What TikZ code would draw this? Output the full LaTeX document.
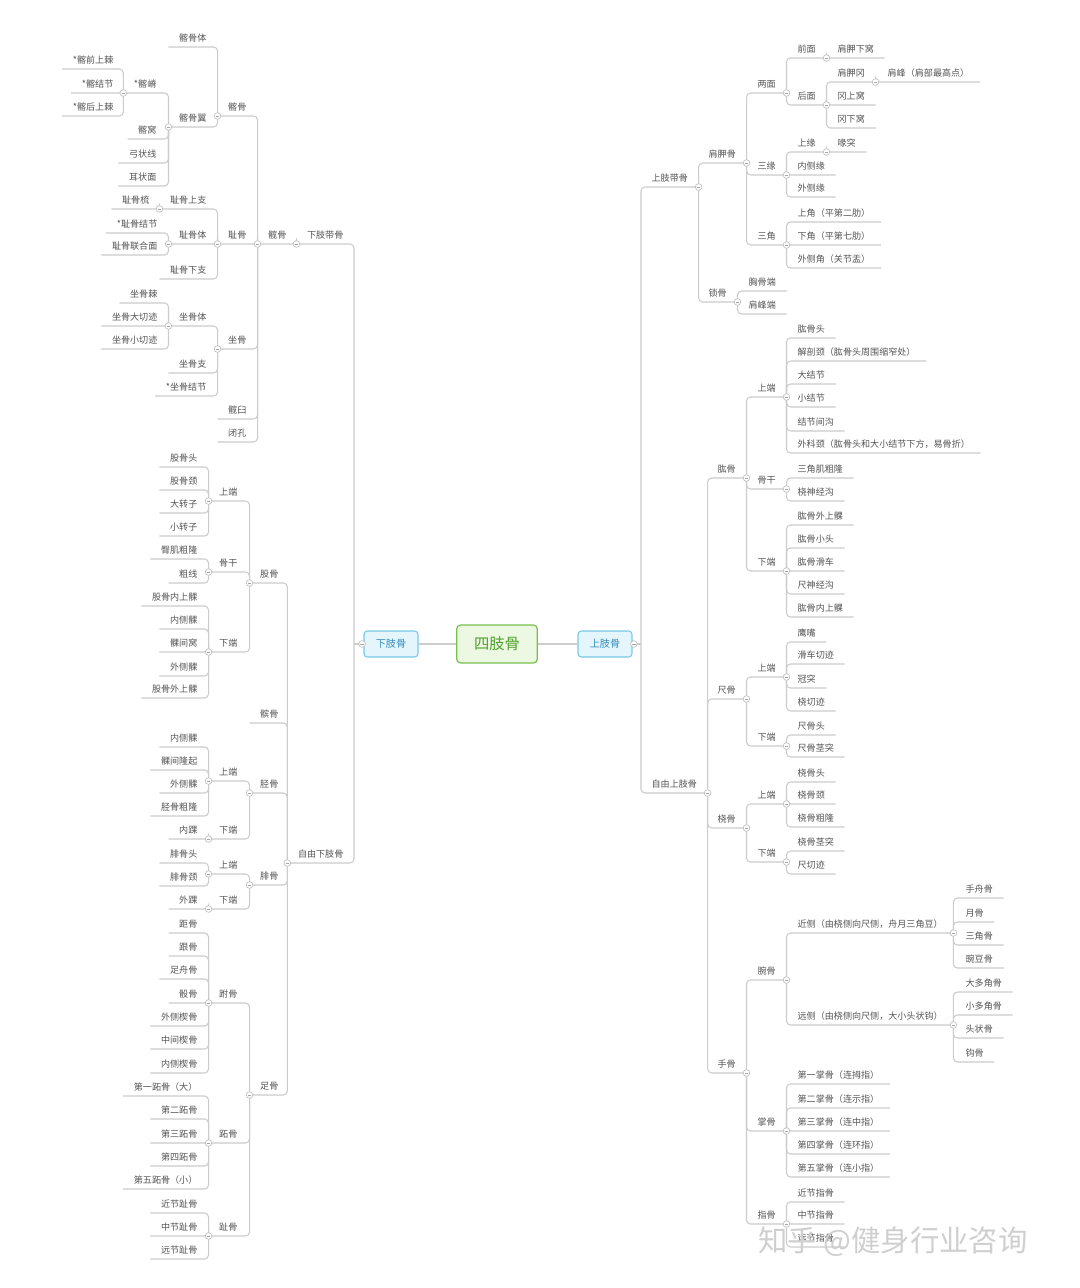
\documentclass[tikz,border=0pt]{standalone}
\usepackage{fontspec}
\setmainfont{Noto Sans CJK SC}
\definecolor{conngray}{RGB}{204,204,204}
\definecolor{txtgray}{RGB}{85,85,85}
\definecolor{hubgreen}{RGB}{118,192,78}
\definecolor{hubfill}{RGB}{236,248,226}
\definecolor{hubtext}{RGB}{80,160,45}
\definecolor{limbblue}{RGB}{120,200,232}
\definecolor{limbfill}{RGB}{228,245,252}
\definecolor{limbtext}{RGB}{55,140,190}
\tikzset{
  conn/.style={conngray, line width=0.8pt, rounded corners=3pt},
  rb/.style={anchor=south west, inner xsep=7.8pt, inner ysep=3pt, text height=6pt, text depth=0.8pt,
             font=\fontsize{6.8}{8}\selectfont, text=txtgray},
  lb/.style={rb, anchor=south east},
  hub/.style={draw=hubgreen, fill=hubfill, rounded corners=3pt, line width=0.9pt,
              minimum width=60.5pt, minimum height=28.5pt, text=hubtext, font=\fontsize{11.5}{13}\selectfont},
  limb/.style={draw=limbblue, fill=limbfill, rounded corners=2.5pt, line width=0.8pt,
               minimum width=40.5pt, minimum height=19.5pt, text=limbtext, font=\fontsize{7.6}{9}\selectfont},
  knob/.style={circle, draw=gray!50, fill=white, line width=0.5pt, inner sep=0pt, minimum size=5pt,
      path picture={\draw[gray!70, line width=0.5pt] ([xshift=-1.3pt]path picture bounding box.center)
                    -- ([xshift=1.3pt]path picture bounding box.center);}},
  wmark/.style={text=gray!38, font=\fontsize{22}{25}\selectfont},
}
\begin{document}
\begin{tikzpicture}[x=0.75pt, y=-0.75pt]
  \fill[white] (0,0) rectangle (1080,1288);
  \useasboundingbox (0,0) rectangle (1080,1288);

  % centre
  \node[hub] (root) at (497,644) {四肢骨};
  \node[limb] (upper) at (605,644) {上肢骨};
  \node[limb] (lower) at (391,644) {下肢骨};
  \coordinate (ut) at (641,644);
  \coordinate (lt) at (354,644);

  % upper limb
  \node[rb] (ug) at (641,187) {上肢带骨};
  \node[rb] (sc) at (698,163) {肩胛骨};
  \node[rb] (sc2m) at (747,93) {两面};
  \node[rb] (scF) at (787,58) {前面};
  \node[rb] (scFa) at (827,58) {肩胛下窝};
  \node[rb] (scB) at (787,105) {后面};
  \node[rb] (spine) at (827,82) {肩胛冈};
  \node[rb] (acro) at (877,82) {肩峰（肩部最高点）};
  \node[rb] (supra) at (827,105) {冈上窝};
  \node[rb] (infra) at (827,128) {冈下窝};
  \node[rb] (sc3e) at (747,175) {三缘};
  \node[rb] (scSup) at (787,152) {上缘};
  \node[rb] (cora) at (827,152) {喙突};
  \node[rb] (scMed) at (787,175) {内侧缘};
  \node[rb] (scLat) at (787,197) {外侧缘};
  \node[rb] (sc3a) at (747,245) {三角};
  \node[rb] (angSup) at (787,222) {上角（平第二肋）};
  \node[rb] (angInf) at (787,245) {下角（平第七肋）};
  \node[rb] (angLat) at (787,268) {外侧角（关节盂）};
  \node[rb] (clav) at (698,302) {锁骨};
  \node[rb] (clavS) at (738,291) {胸骨端};
  \node[rb] (clavA) at (738,314) {肩峰端};

  \node[rb] (uf) at (641,793) {自由上肢骨};
  \node[rb] (hum) at (707,478) {肱骨};
  \node[rb] (humP) at (747,397) {上端};
  \node[rb] (humHead) at (787,338) {肱骨头};
  \node[rb] (humAnat) at (787,361) {解剖颈（肱骨头周围缩窄处）};
  \node[rb] (humGT) at (787,384) {大结节};
  \node[rb] (humLT) at (787,407) {小结节};
  \node[rb] (humSul) at (787,431) {结节间沟};
  \node[rb] (humSurg) at (787,453) {外科颈（肱骨头和大小结节下方，易骨折）};
  \node[rb] (humS) at (747,489) {骨干};
  \node[rb] (humDel) at (787,478) {三角肌粗隆};
  \node[rb] (humRad) at (787,501) {桡神经沟};
  \node[rb] (humD) at (747,571) {下端};
  \node[rb] (humLE) at (787,525) {肱骨外上髁};
  \node[rb] (humCap) at (787,548) {肱骨小头};
  \node[rb] (humTro) at (787,571) {肱骨滑车};
  \node[rb] (humUln) at (787,594) {尺神经沟};
  \node[rb] (humME) at (787,617) {肱骨内上髁};
  \node[rb] (uln) at (707,699) {尺骨};
  \node[rb] (ulnP) at (747,677) {上端};
  \node[rb] (ulnOle) at (787,642) {鹰嘴};
  \node[rb] (ulnTro) at (787,664) {滑车切迹};
  \node[rb] (ulnCor) at (787,688) {冠突};
  \node[rb] (ulnRad) at (787,711) {桡切迹};
  \node[rb] (ulnD) at (747,746) {下端};
  \node[rb] (ulnHead) at (787,735) {尺骨头};
  \node[rb] (ulnSty) at (787,757) {尺骨茎突};
  \node[rb] (rad) at (707,828) {桡骨};
  \node[rb] (radP) at (747,804) {上端};
  \node[rb] (radHead) at (787,782) {桡骨头};
  \node[rb] (radNeck) at (787,804) {桡骨颈};
  \node[rb] (radTub) at (787,827) {桡骨粗隆};
  \node[rb] (radD) at (747,862) {下端};
  \node[rb] (radSty) at (787,851) {桡骨茎突};
  \node[rb] (radUln) at (787,874) {尺切迹};
  \node[rb] (hand) at (707,1073) {手骨};
  \node[rb] (carp) at (747,980) {腕骨};
  \node[rb] (carpP) at (787,933) {近侧（由桡侧向尺侧，舟月三角豆）};
  \node[rb] (scaph) at (955,898) {手舟骨};
  \node[rb] (lun) at (955,922) {月骨};
  \node[rb] (triq) at (955,945) {三角骨};
  \node[rb] (pisi) at (955,968) {豌豆骨};
  \node[rb] (carpD) at (787,1025) {远侧（由桡侧向尺侧，大小头状钩）};
  \node[rb] (trapz) at (955,992) {大多角骨};
  \node[rb] (trapd) at (955,1015) {小多角骨};
  \node[rb] (capit) at (955,1038) {头状骨};
  \node[rb] (hama) at (955,1062) {钩骨};
  \node[rb] (meta) at (747,1131) {掌骨};
  \node[rb] (mc1) at (787,1084) {第一掌骨（连拇指）};
  \node[rb] (mc2) at (787,1108) {第二掌骨（连示指）};
  \node[rb] (mc3) at (787,1131) {第三掌骨（连中指）};
  \node[rb] (mc4) at (787,1154) {第四掌骨（连环指）};
  \node[rb] (mc5) at (787,1177) {第五掌骨（连小指）};
  \node[rb] (phal) at (747,1224) {指骨};
  \node[rb] (phP) at (787,1202) {近节指骨};
  \node[rb] (phM) at (787,1224) {中节指骨};
  \node[rb] (phD) at (787,1247) {远节指骨};

  % lower limb
  \node[lb] (lg) at (354,244) {下肢带骨};
  \node[lb] (hip) at (297,244) {髋骨};
  \node[lb] (il) at (257,116) {髂骨};
  \node[lb] (ilB) at (217,47) {髂骨体};
  \node[lb] (ilW) at (217,127) {髂骨翼};
  \node[lb] (crest) at (167,93) {*髂嵴};
  \node[lb] (asis) at (124,69) {*髂前上棘};
  \node[lb] (iltub) at (124,93) {*髂结节};
  \node[lb] (psis) at (124,116) {*髂后上棘};
  \node[lb] (ilF) at (167,139) {髂窝};
  \node[lb] (arc) at (167,163) {弓状线};
  \node[lb] (aur) at (167,186) {耳状面};
  \node[lb] (pu) at (257,244) {耻骨};
  \node[lb] (puS) at (217,209) {耻骨上支};
  \node[lb] (pecten) at (160,209) {耻骨梳};
  \node[lb] (puB) at (217,244) {耻骨体};
  \node[lb] (putub) at (168,233) {*耻骨结节};
  \node[lb] (sym) at (168,255) {耻骨联合面};
  \node[lb] (puI) at (217,279) {耻骨下支};
  \node[lb] (is) at (257,349) {坐骨};
  \node[lb] (isB) at (217,326) {坐骨体};
  \node[lb] (isSp) at (168,303) {坐骨棘};
  \node[lb] (isGr) at (168,326) {坐骨大切迹};
  \node[lb] (isLe) at (168,349) {坐骨小切迹};
  \node[lb] (isR) at (217,373) {坐骨支};
  \node[lb] (istub) at (217,396) {*坐骨结节};
  \node[lb] (acet) at (257,419) {髋臼};
  \node[lb] (obt) at (257,442) {闭孔};

  \node[lb] (lf) at (354,863) {自由下肢骨};
  \node[lb] (fem) at (289,583) {股骨};
  \node[lb] (femP) at (248,501) {上端};
  \node[lb] (femHead) at (208,467) {股骨头};
  \node[lb] (femNeck) at (208,490) {股骨颈};
  \node[lb] (femGT) at (208,513) {大转子};
  \node[lb] (femLT) at (208,536) {小转子};
  \node[lb] (femS) at (248,572) {骨干};
  \node[lb] (femGlu) at (208,559) {臀肌粗隆};
  \node[lb] (femLin) at (208,583) {粗线};
  \node[lb] (femD) at (248,652) {下端};
  \node[lb] (femME) at (208,606) {股骨内上髁};
  \node[lb] (femMC) at (208,629) {内侧髁};
  \node[lb] (femIC) at (208,652) {髁间窝};
  \node[lb] (femLC) at (208,676) {外侧髁};
  \node[lb] (femLE) at (208,698) {股骨外上髁};
  \node[lb] (pat) at (289,723) {髌骨};
  \node[lb] (tib) at (289,793) {胫骨};
  \node[lb] (tibP) at (248,781) {上端};
  \node[lb] (tibMC) at (208,747) {内侧髁};
  \node[lb] (tibIE) at (208,770) {髁间隆起};
  \node[lb] (tibLC) at (208,793) {外侧髁};
  \node[lb] (tibTub) at (208,816) {胫骨粗隆};
  \node[lb] (tibD) at (248,839) {下端};
  \node[lb] (tibMM) at (208,839) {内踝};
  \node[lb] (fib) at (289,885) {腓骨};
  \node[lb] (fibP) at (248,874) {上端};
  \node[lb] (fibHead) at (208,863) {腓骨头};
  \node[lb] (fibNeck) at (208,886) {腓骨颈};
  \node[lb] (fibD) at (248,909) {下端};
  \node[lb] (fibLM) at (208,909) {外踝};
  \node[lb] (foot) at (289,1095) {足骨};
  \node[lb] (tars) at (248,1003) {跗骨};
  \node[lb] (talus) at (208,933) {距骨};
  \node[lb] (calc) at (208,956) {跟骨};
  \node[lb] (navi) at (208,979) {足舟骨};
  \node[lb] (cub) at (208,1003) {骰骨};
  \node[lb] (cunL) at (208,1026) {外侧楔骨};
  \node[lb] (cunI) at (208,1049) {中间楔骨};
  \node[lb] (cunM) at (208,1073) {内侧楔骨};
  \node[lb] (mt) at (248,1143) {跖骨};
  \node[lb] (mt1) at (208,1096) {第一跖骨（大）};
  \node[lb] (mt2) at (208,1119) {第二跖骨};
  \node[lb] (mt3) at (208,1143) {第三跖骨};
  \node[lb] (mt4) at (208,1166) {第四跖骨};
  \node[lb] (mt5) at (208,1189) {第五跖骨（小）};
  \node[lb] (toe) at (248,1236) {趾骨};
  \node[lb] (tP) at (208,1213) {近节趾骨};
  \node[lb] (tM) at (208,1236) {中节趾骨};
  \node[lb] (tD) at (208,1259) {远节趾骨};

  % connectors
  \draw[conn] (root.west) -- (lower.east);
  \draw[conn] (root.east) -- (upper.west);
  \draw[conn] (upper.east) -- (ut);
  \draw[conn] (ut) |- (ug.south east);
  \draw[conn] (ut) |- (uf.south east);
  \draw[conn] (lower.west) -- (lt);
  \draw[conn] (lt) |- (lg.south west);
  \draw[conn] (lt) |- (lf.south west);
  \foreach \p/\c in {ug/sc, ug/clav, sc/sc2m, sc/sc3e, sc/sc3a, sc2m/scF, sc2m/scB, scF/scFa,
      scB/spine, scB/supra, scB/infra, spine/acro, sc3e/scSup, sc3e/scMed, sc3e/scLat, scSup/cora,
      sc3a/angSup, sc3a/angInf, sc3a/angLat, clav/clavS, clav/clavA,
      uf/hum, uf/uln, uf/rad, uf/hand, hum/humP, hum/humS, hum/humD,
      humP/humHead, humP/humAnat, humP/humGT, humP/humLT, humP/humSul, humP/humSurg,
      humS/humDel, humS/humRad, humD/humLE, humD/humCap, humD/humTro, humD/humUln, humD/humME,
      uln/ulnP, uln/ulnD, ulnP/ulnOle, ulnP/ulnTro, ulnP/ulnCor, ulnP/ulnRad, ulnD/ulnHead, ulnD/ulnSty,
      rad/radP, rad/radD, radP/radHead, radP/radNeck, radP/radTub, radD/radSty, radD/radUln,
      hand/carp, hand/meta, hand/phal, carp/carpP, carp/carpD,
      carpP/scaph, carpP/lun, carpP/triq, carpP/pisi, carpD/trapz, carpD/trapd, carpD/capit, carpD/hama,
      meta/mc1, meta/mc2, meta/mc3, meta/mc4, meta/mc5, phal/phP, phal/phM, phal/phD}
    \draw[conn] (\p.south east) |- (\c.south east);
  \foreach \p/\c in {lg/hip, hip/il, hip/pu, hip/is, hip/acet, hip/obt, il/ilB, il/ilW,
      ilW/crest, ilW/ilF, ilW/arc, ilW/aur, crest/asis, crest/iltub, crest/psis,
      pu/puS, pu/puB, pu/puI, puS/pecten, puB/putub, puB/sym, is/isB, is/isR, is/istub,
      isB/isSp, isB/isGr, isB/isLe,
      lf/fem, lf/pat, lf/tib, lf/fib, lf/foot, fem/femP, fem/femS, fem/femD,
      femP/femHead, femP/femNeck, femP/femGT, femP/femLT, femS/femGlu, femS/femLin,
      femD/femME, femD/femMC, femD/femIC, femD/femLC, femD/femLE,
      tib/tibP, tib/tibD, tibP/tibMC, tibP/tibIE, tibP/tibLC, tibP/tibTub, tibD/tibMM,
      fib/fibP, fib/fibD, fibP/fibHead, fibP/fibNeck, fibD/fibLM,
      foot/tars, foot/mt, foot/toe, tars/talus, tars/calc, tars/navi, tars/cub, tars/cunL, tars/cunI, tars/cunM,
      mt/mt1, mt/mt2, mt/mt3, mt/mt4, mt/mt5, toe/tP, toe/tM, toe/tD}
    \draw[conn] (\p.south west) |- (\c.south west);

  % collapse knobs
  \node[knob] (kupper) at ([xshift=1pt]upper.east) {};
  \node[knob] (klower) at ([xshift=-1pt]lower.west) {};
  \foreach \n in {ug, sc, sc2m, scF, scB, spine, sc3e, scSup, sc3a, clav, uf, hum, humP, humS, humD,
      uln, ulnP, ulnD, rad, radP, radD, hand, carp, carpP, carpD, meta, phal}
    \node[knob] (k\n) at (\n.south east) {};
  \foreach \n in {lg, hip, il, ilW, crest, pu, puS, puB, is, isB, lf, fem, femP, femS, femD,
      tib, tibP, tibD, fib, fibP, fibD, foot, tars, mt, toe}
    \node[knob] (k\n) at (\n.south west) {};

  \node[wmark] (wm) at (893,1242) {知乎 @健身行业咨询};
\end{tikzpicture}
\end{document}
